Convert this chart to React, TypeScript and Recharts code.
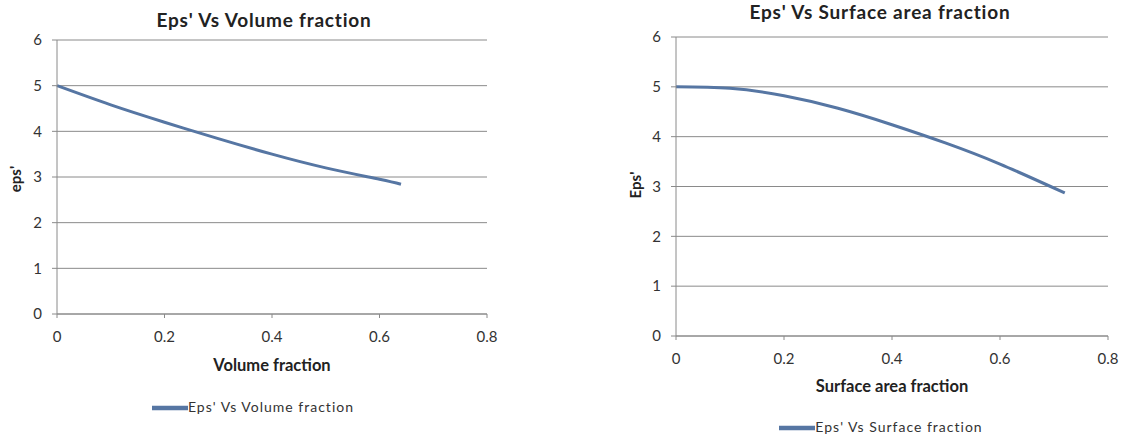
import React from "react"
import { LineChart, Line, XAxis, YAxis, CartesianGrid, Legend } from "recharts"

// values
const volumeFraction = [0, 0.1, 0.2, 0.3, 0.4, 0.5, 0.6, 0.64]
const epsVolume = [5, 4.58, 4.2, 3.84, 3.5, 3.2, 2.95, 2.84]

const surfaceFraction = [0, 0.1, 0.2, 0.3, 0.4, 0.5, 0.6, 0.72]
const epsSurface = [5, 4.97, 4.82, 4.57, 4.24, 3.87, 3.45, 2.87]

const xTicks = [0, 0.2, 0.4, 0.6, 0.8]
const yTicks = [0, 1, 2, 3, 4, 5, 6]

const volumeData = volumeFraction.map((x, i) => ({ x, eps: epsVolume[i] }))
const surfaceData = surfaceFraction.map((x, i) => ({ x, eps: epsSurface[i] }))

const FONT = "Lato, 'Open Sans', sans-serif"
const GRID = "#8a8a8a"
const LINE = "#5676a3"
const TEXT = "#333"

interface PanelProps {
  left: number
  width: number
  data: { x: number; eps: number }[]
  margin: { top: number; right: number; left: number; bottom: number }
  title: string
  titleX: number
  titleY: number
  xLabel: string
  xLabelY: number
  yLabel: string
  yLabelX: number
  yLabelY: number
  legendName: string
  legendTop: number
  legendLeft: number
}

function Panel(p: PanelProps) {
  return (
    <div style={{ position: "absolute", left: p.left, top: 0, width: p.width, height: 438 }}>
      <LineChart width={p.width} height={438} data={p.data} margin={p.margin}>
        <CartesianGrid vertical={false} stroke={GRID} strokeWidth={1} />
        <XAxis
          dataKey="x"
          type="number"
          domain={[0, 0.8]}
          ticks={xTicks}
          stroke={GRID}
          tickSize={4}
          tickMargin={13}
          height={30}
          tick={{ fill: TEXT, fontSize: 15, fontFamily: FONT }}
        />
        <YAxis
          domain={[0, 6]}
          ticks={yTicks}
          stroke={GRID}
          tickSize={5}
          tickMargin={10}
          width={40}
          tick={{ fill: TEXT, fontSize: 15, fontFamily: FONT }}
        />
        {/* middle alignment keeps the legend from shrinking the plot */}
        <Legend
          verticalAlign="middle"
          iconType="plainline"
          iconSize={36}
          wrapperStyle={{ top: p.legendTop, left: p.legendLeft, width: p.width, fontFamily: FONT, fontSize: 14, letterSpacing: 1 }}
          formatter={() => <span style={{ color: TEXT, marginLeft: -4 }}>{p.legendName}</span>}
        />
        <Line
          type="natural"
          dataKey="eps"
          name={p.legendName}
          stroke={LINE}
          strokeWidth={3}
          dot={false}
          isAnimationActive={false}
        />
      </LineChart>
      <div
        style={{
          position: "absolute",
          left: p.titleX - 200,
          width: 400,
          top: p.titleY - 12,
          textAlign: "center",
          fontFamily: FONT,
          fontWeight: 700,
          fontSize: 19,
          letterSpacing: 0.8,
          color: "#222",
        }}
      >
        {p.title}
      </div>
      <div
        style={{
          position: "absolute",
          left: p.margin.left + 40 + (p.width - p.margin.left - 40 - p.margin.right) / 2 - 150,
          width: 300,
          top: p.xLabelY - 11,
          textAlign: "center",
          fontFamily: FONT,
          fontWeight: 700,
          fontSize: 16.5,
          color: "#222",
        }}
      >
        {p.xLabel}
      </div>
      <div
        style={{
          position: "absolute",
          left: p.yLabelX - 30,
          top: p.yLabelY - 10,
          width: 60,
          textAlign: "center",
          transform: "rotate(-90deg)",
          fontFamily: FONT,
          fontWeight: 700,
          fontSize: 15,
          color: "#222",
        }}
      >
        {p.yLabel}
      </div>
    </div>
  )
}

export default function App() {
  return (
    <div style={{ position: "absolute", left: 0, top: 0, width: 1132, height: 438, background: "#fff", overflow: "hidden" }}>
      <Panel
        left={0}
        width={500}
        data={volumeData}
        margin={{ top: 40, right: 13, left: 17, bottom: 94 }}
        title="Eps' Vs Volume fraction"
        titleX={264}
        titleY={20}
        xLabel="Volume fraction"
        xLabelY={366}
        yLabel="eps'"
        yLabelX={15}
        yLabelY={180}
        legendName="Eps' Vs Volume fraction"
        legendTop={390}
        legendLeft={8}
      />
      <Panel
        left={600}
        width={532}
        data={surfaceData}
        margin={{ top: 37, right: 24, left: 36, bottom: 72 }}
        title="Eps' Vs Surface area fraction"
        titleX={280}
        titleY={12}
        xLabel="Surface area fraction"
        xLabelY={387}
        yLabel="Eps'"
        yLabelX={35}
        yLabelY={186}
        legendName="Eps' Vs Surface fraction"
        legendTop={410}
        legendLeft={20}
      />
    </div>
  )
}
